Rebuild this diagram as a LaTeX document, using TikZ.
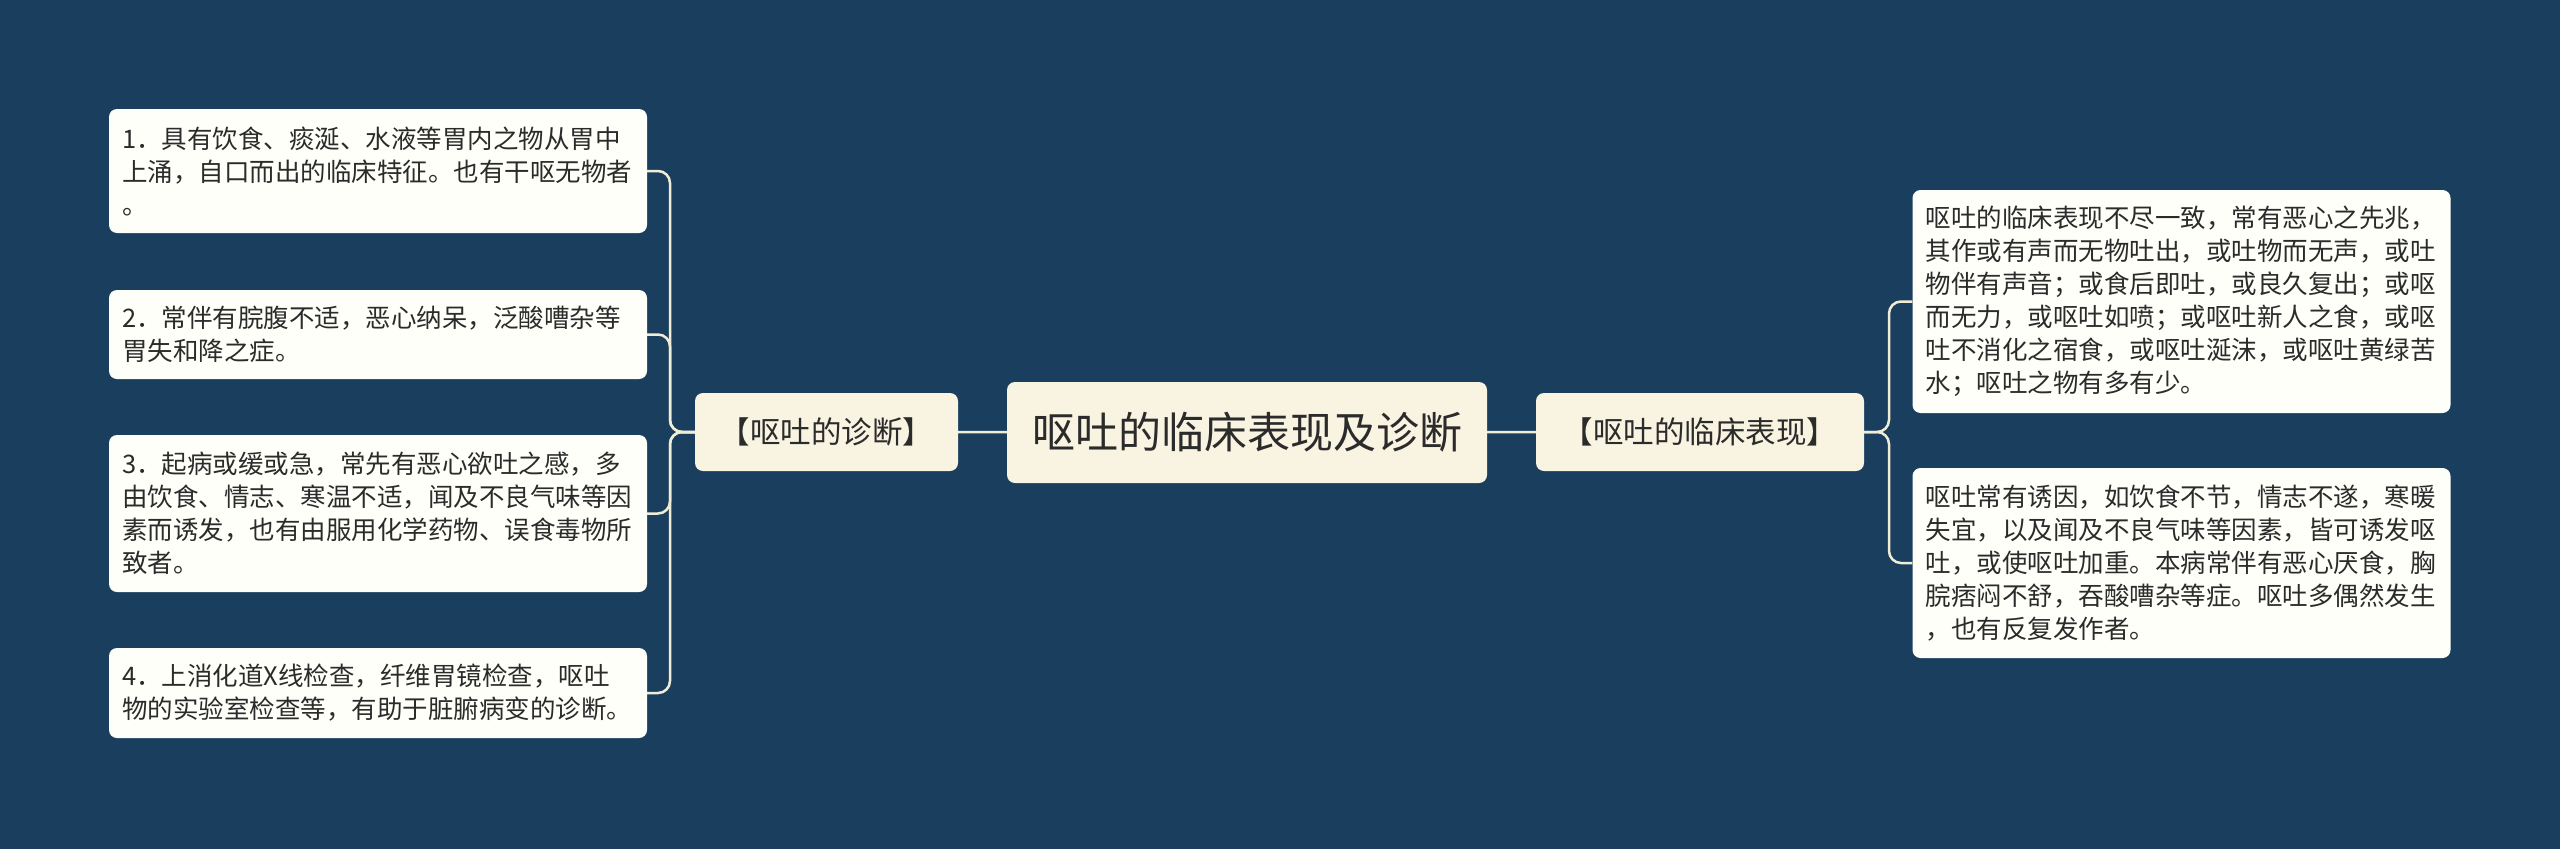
\documentclass[tikz,border=0pt]{standalone}
\usepackage{fontspec}
\setmainfont{Noto Sans CJK SC}
\usepackage{xcolor}
\definecolor{bgblue}{HTML}{1A3E5E}
\definecolor{leafwhite}{HTML}{FFFFFA}
\definecolor{topiccream}{HTML}{F8F4E1}
\definecolor{linecream}{HTML}{F1ECD6}
\definecolor{inkgray}{HTML}{2B2B2B}

\begin{document}
\begin{tikzpicture}[x=1pt,y=-1pt]
        \tikzset{leaf/.style = {shape=rectangle,rounded corners=8pt,fill=leafwhite,text=inkgray,align=left,text width=512pt,inner xsep=13pt,inner ysep=0pt,font=\fontsize{25.5}{33}\selectfont}}
        \tikzset{topic/.style = {shape=rectangle,rounded corners=8pt,fill=topiccream,text=inkgray,inner sep=0pt,minimum height=78pt,font=\fontsize{30.5}{36}\selectfont}}
        \tikzset{root/.style = {shape=rectangle,rounded corners=8pt,fill=topiccream,text=inkgray,inner sep=0pt,minimum width=480pt,minimum height=101pt,font=\fontsize{43}{50}\selectfont}}
        \tikzset{branch/.style = {draw=linecream,line width=2.5pt,rounded corners=12pt}}
        % background
        \fill[bgblue] (0,0) rectangle (2560,849);
        \useasboundingbox (0,0) rectangle (2560,849);
        % vertices
        \node[root] (main) at (1247,432.5) {呕吐的临床表现及诊断};
        \node[topic,minimum width=263pt] (diag) at (826.5,432) {【呕吐的诊断】};
        \node[topic,minimum width=328pt] (clin) at (1700,432) {【呕吐的临床表现】};
        \node[leaf,minimum height=124pt] (l1) at (378,171) {1．具有饮食、痰涎、水液等胃内之物从胃中\\上涌，自口而出的临床特征。也有干呕无物者\\。};
        \node[leaf,minimum height=89pt] (l2) at (378,334.5) {2．常伴有脘腹不适，恶心纳呆，泛酸嘈杂等\\胃失和降之症。};
        \node[leaf,minimum height=157pt] (l3) at (378,513.5) {3．起病或缓或急，常先有恶心欲吐之感，多\\由饮食、情志、寒温不适，闻及不良气味等因\\素而诱发，也有由服用化学药物、误食毒物所\\致者。};
        \node[leaf,minimum height=90pt] (l4) at (378,693) {4．上消化道X线检查，纤维胃镜检查，呕吐\\物的实验室检查等，有助于脏腑病变的诊断。};
        \node[leaf,minimum height=223pt] (r1) at (2181.5,301.5) {呕吐的临床表现不尽一致，常有恶心之先兆，\\其作或有声而无物吐出，或吐物而无声，或吐\\物伴有声音；或食后即吐，或良久复出；或呕\\而无力，或呕吐如喷；或呕吐新人之食，或呕\\吐不消化之宿食，或呕吐涎沫，或呕吐黄绿苦\\水；呕吐之物有多有少。};
        \node[leaf,minimum height=190pt] (r2) at (2181.5,563) {呕吐常有诱因，如饮食不节，情志不遂，寒暖\\失宜，以及闻及不良气味等因素，皆可诱发呕\\吐，或使呕吐加重。本病常伴有恶心厌食，胸\\脘痞闷不舒，吞酸嘈杂等症。呕吐多偶然发生\\，也有反复发作者。};
        \coordinate (lhub) at (670,432);
        \coordinate (rhub) at (1889,432);
        % edges
        \draw[branch] (main) -- (diag);
        \draw[branch] (main) -- (clin);
        \draw[branch] (diag.west) -- (lhub) |- (l1.east);
        \draw[branch] (diag.west) -- (lhub) |- (l2.east);
        \draw[branch] (diag.west) -- (lhub) |- (l3.east);
        \draw[branch] (diag.west) -- (lhub) |- (l4.east);
        \draw[branch] (clin.east) -- (rhub) |- (r1.west);
        \draw[branch] (clin.east) -- (rhub) |- (r2.west);
\end{tikzpicture}
\end{document}
